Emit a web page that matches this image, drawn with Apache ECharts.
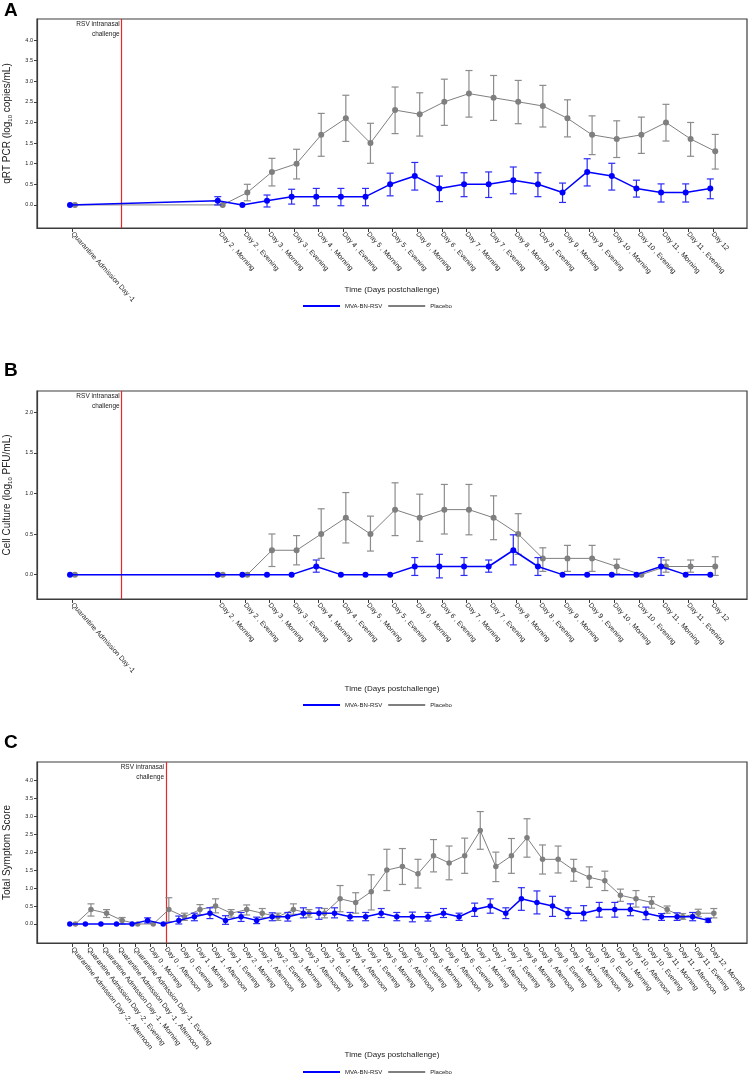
<!DOCTYPE html>
<html><head><meta charset="utf-8">
<script src="https://cdn.jsdelivr.net/npm/echarts@6/dist/echarts.min.js"></script>
<style>html,body{margin:0;padding:0;background:#fff}#c{width:750px;height:1081px}</style>
</head><body><div id="c"></div>
<script>
// ---------- DATA ----------
const catsAB = ['Quarantine Admission Day -1',
  'Day 2 , Morning','Day 2 , Evening','Day 3 , Morning','Day 3 , Evening','Day 4 , Morning','Day 4 , Evening',
  'Day 5 , Morning','Day 5 , Evening','Day 6 , Morning','Day 6 , Evening','Day 7 , Morning','Day 7 , Evening',
  'Day 8 , Morning','Day 8 , Evening','Day 9 , Morning','Day 9 , Evening','Day 10 , Morning','Day 10 , Evening',
  'Day 11 , Morning','Day 11 , Evening','Day 12'];
// half-day time slots (Quarantine Day -1 = 0, challenge Day 0 = 2)
const slotsAB = [0,6,7,8,9,10,11,12,13,14,15,16,17,18,19,20,21,22,23,24,25,26];
const challengeAB = 2;

const catsC = ['Quarantine Admission Day -2 , Afternoon','Quarantine Admission Day -2 , Evening',
  'Quarantine Admission Day -1 , Morning','Quarantine Admission Day -1 , Afternoon','Quarantine Admission Day -1 , Evening',
  'Day 0 , Morning','Day 0 , Afternoon','Day 0 , Evening','Day 1 , Morning','Day 1 , Afternoon','Day 1 , Evening',
  'Day 2 , Morning','Day 2 , Afternoon','Day 2 , Evening','Day 3 , Morning','Day 3 , Afternoon','Day 3 , Evening',
  'Day 4 , Morning','Day 4 , Afternoon','Day 4 , Evening','Day 5 , Morning','Day 5 , Afternoon','Day 5 , Evening',
  'Day 6 , Morning','Day 6 , Afternoon','Day 6 , Evening','Day 7 , Morning','Day 7 , Afternoon','Day 7 , Evening',
  'Day 8 , Morning','Day 8 , Afternoon','Day 8 , Evening','Day 9 , Morning','Day 9 , Afternoon','Day 9 , Evening',
  'Day 10 , Morning','Day 10 , Afternoon','Day 10 , Evening','Day 11 , Morning','Day 11 , Afternoon','Day 11 , Evening',
  'Day 12 , Morning'];
const slotsC = [0,1,2,3,4,5,6,7,8,9,10,11,12,13,14,15,16,17,18,19,20,21,22,23,24,25,26,27,28,29,30,31,32,33,34,35,36,37,38,39,40,41];
const challengeC = 6;

const yTicksA = [0,0.5,1,1.5,2,2.5,3,3.5,4];
const yTicksB = [0,0.5,1,1.5,2];
const yTicksC = [0,0.5,1,1.5,2,2.5,3,3.5,4];

// A: qRT PCR
const pcrVac     = [0,0.1,0,0.1,0.2,0.2,0.2,0.2,0.5,0.7,0.4,0.5,0.5,0.6,0.5,0.3,0.8,0.7,0.4,0.3,0.3,0.4];
const pcrVacLo   = [0,0,0,-0.05,0.02,-0.02,-0.02,-0.02,0.22,0.36,0.08,0.2,0.18,0.27,0.2,0.06,0.46,0.36,0.19,0.07,0.07,0.15];
const pcrVacHi   = [0,0.2,0,0.24,0.38,0.4,0.4,0.4,0.77,1.03,0.7,0.78,0.8,0.92,0.78,0.53,1.12,1.01,0.6,0.51,0.51,0.63];
const pcrPla     = [0,0,0.3,0.8,1.0,1.7,2.1,1.5,2.3,2.2,2.5,2.7,2.6,2.5,2.4,2.1,1.7,1.6,1.7,2.0,1.6,1.3];
const pcrPlaLo   = [0,0,0.1,0.46,0.63,1.18,1.54,1.01,1.73,1.67,1.93,2.13,2.05,1.97,1.89,1.65,1.22,1.15,1.25,1.55,1.18,0.87];
const pcrPlaHi   = [0,0,0.5,1.13,1.35,2.22,2.66,1.98,2.86,2.72,3.05,3.26,3.14,3.02,2.9,2.55,2.16,2.04,2.13,2.44,2.0,1.71];

// B: Cell culture
const cultVac    = [0,0,0,0,0,0.1,0,0,0,0.1,0.1,0.1,0.1,0.3,0.1,0,0,0,0,0.1,0,0];
const cultVacLo  = [0,0,0,0,0,0.03,0,0,0,-0.01,-0.04,-0.01,0.03,0.12,-0.01,0,0,0,0,-0.01,0,0];
const cultVacHi  = [0,0,0,0,0,0.18,0,0,0,0.21,0.25,0.21,0.18,0.49,0.21,0,0,0,0,0.21,0,0];
const cultPla    = [0,0,0,0.3,0.3,0.5,0.7,0.5,0.8,0.7,0.8,0.8,0.7,0.5,0.2,0.2,0.2,0.1,0,0.1,0.1,0.1];
const cultPlaLo  = [0,0,0,0.10,0.12,0.20,0.39,0.29,0.48,0.41,0.50,0.49,0.43,0.25,0.04,0.04,0.04,0.01,0,0.03,0.03,-0.01];
const cultPlaHi  = [0,0,0,0.50,0.48,0.81,1.01,0.72,1.13,0.99,1.11,1.11,0.97,0.75,0.33,0.36,0.36,0.19,0,0.18,0.18,0.22];

// C: Total symptom score
const symVac   = [0,0,0,0,0,0.1,0,0.1,0.2,0.3,0.1,0.2,0.1,0.2,0.2,0.3,0.3,0.3,0.2,0.2,0.3,0.2,0.2,0.2,0.3,0.2,0.4,0.5,0.3,0.7,0.6,0.5,0.3,0.3,0.4,0.4,0.4,0.3,0.2,0.2,0.2,0.1];
const symVacLo = [0,0,0,0,0,0.03,0,0,0.09,0.15,-0.01,0.07,0.01,0.09,0.08,0.17,0.13,0.17,0.09,0.09,0.18,0.09,0.06,0.08,0.18,0.10,0.21,0.30,0.15,0.38,0.28,0.21,0.15,0.09,0.19,0.19,0.23,0.12,0.10,0.10,0.09,0.05];
const symVacHi = [0,0,0,0,0,0.17,0,0.22,0.30,0.45,0.23,0.32,0.19,0.31,0.32,0.45,0.45,0.45,0.32,0.32,0.43,0.32,0.33,0.32,0.43,0.30,0.58,0.70,0.45,1.01,0.92,0.77,0.45,0.51,0.60,0.60,0.56,0.47,0.29,0.31,0.32,0.16];
const symPla   = [0,0.4,0.3,0.1,0,0,0.4,0.2,0.4,0.5,0.3,0.4,0.3,0.2,0.4,0.3,0.3,0.7,0.6,0.9,1.5,1.6,1.4,1.9,1.7,1.9,2.6,1.6,1.9,2.4,1.8,1.8,1.5,1.3,1.2,0.8,0.7,0.6,0.4,0.2,0.3,0.3];
const symPlaLo = [0,0.22,0.18,0,0,0,0.06,0.10,0.26,0.31,0.19,0.25,0.17,0.10,0.27,0.19,0.17,0.34,0.30,0.39,0.93,1.10,1.00,1.45,1.23,1.41,2.08,1.18,1.41,1.86,1.39,1.42,1.19,1.02,0.93,0.63,0.47,0.44,0.30,0.13,0.20,0.17];
const symPlaHi = [0,0.56,0.40,0.18,0,0,0.73,0.30,0.54,0.70,0.40,0.53,0.43,0.30,0.56,0.40,0.43,1.07,0.87,1.37,2.08,2.10,1.80,2.35,2.17,2.39,3.13,2.00,2.38,2.93,2.20,2.17,1.80,1.59,1.47,0.97,0.93,0.76,0.50,0.29,0.41,0.43];

// ---------- LAYOUT / STYLE ----------
const FONT = '"Liberation Sans", Arial, Helvetica, sans-serif';
const BLUE = '#0000ff', BLUE_ERR = '#2b2bf5', GRAY = '#7f7f7f', GRAY_ERR = '#8c8c8c', RED = '#e8262a';
const panels = [
  {letter:'A', grid:{left:37, width:710, top:19, height:209}, x:[-1.44,27.39], y:[-0.56,4.51], yTicks:yTicksA,
   cats:catsAB, slots:slotsAB, ch:challengeAB, rot:-48, dodge:0.1, xGap:58, sym:6,
   yName:'qRT PCR (log{sub|10} copies/mL)', vac:[pcrVac,pcrVacLo,pcrVacHi], pla:[pcrPla,pcrPlaLo,pcrPlaHi], legendTop:298, letterTop:1},
  {letter:'B', grid:{left:37, width:710, top:391, height:208}, x:[-1.44,27.39], y:[-0.3,2.26], yTicks:yTicksB,
   cats:catsAB, slots:slotsAB, ch:challengeAB, rot:-48, dodge:0.1, xGap:86, sym:6,
   yName:'Cell Culture (log{sub|10} PFU/mL)', vac:[cultVac,cultVacLo,cultVacHi], pla:[cultPla,cultPlaLo,cultPlaHi], legendTop:697, letterTop:361},
  {letter:'C', grid:{left:37, width:710, top:762, height:181}, x:[-2.286,43.31], y:[-0.53,4.51], yTicks:yTicksC,
   cats:catsC, slots:slotsC, ch:challengeC, rot:-52, dodge:0.18, xGap:108, sym:5.5,
   yName:'Total Symptom Score', vac:[symVac,symVacLo,symVacHi], pla:[symPla,symPlaLo,symPlaHi], legendTop:1064, letterTop:733}
];

function errSeries(k, p, arr, dodge, color, z) {
  return {
    type:'custom', name:'err'+k+color, xAxisIndex:k, yAxisIndex:k, silent:true, z:z, animation:false,
    encode:{x:0, y:[1,2]},
    data: p.slots.map((s,i)=>[s+dodge, arr[1][i], arr[2][i]]),
    renderItem:(params, api)=>{
      const x = api.value(0), lo = api.value(1), hi = api.value(2);
      if (Math.abs(hi-lo) < 1e-9) return null;
      const a = api.coord([x, lo]), b = api.coord([x, hi]);
      const w = 3.5, st = {stroke:color, lineWidth:1.2};
      return {type:'group', children:[
        {type:'line', shape:{x1:a[0], y1:a[1], x2:b[0], y2:b[1]}, style:st},
        {type:'line', shape:{x1:b[0]-w, y1:b[1], x2:b[0]+w, y2:b[1]}, style:st},
        {type:'line', shape:{x1:a[0]-w, y1:a[1], x2:a[0]+w, y2:a[1]}, style:st}
      ]};
    }
  };
}

const option = {animation:false, textStyle:{fontFamily:FONT}, grid:[], xAxis:[], yAxis:[], series:[], legend:[]};
panels.forEach((p,k)=>{
  option.grid.push(Object.assign({show:true, borderColor:'#3c3c3c', borderWidth:1.2, backgroundColor:'#fff',
    containLabel:false, outerBoundsMode:'none'}, p.grid));
  option.xAxis.push({
    type:'value', gridIndex:k, min:p.x[0], max:p.x[1],
    name:'Time (Days postchallenge)', nameLocation:'middle', nameGap:p.xGap, nameMoveOverlap:false,
    nameTextStyle:{fontSize:8, color:'#222', fontFamily:FONT},
    axisLine:{show:true, onZero:false, lineStyle:{color:'#3c3c3c', width:1.2}},
    axisTick:{show:true, customValues:p.slots, length:4, lineStyle:{color:'#3c3c3c'}},
    axisLabel:{show:true, customValues:p.slots, rotate:p.rot, fontSize:7, margin:5, color:'#222', fontFamily:FONT,
      formatter:(v)=>{const i=p.slots.indexOf(Math.round(v)); return i>=0 ? p.cats[i] : '';}},
    splitLine:{show:false}
  });
  option.yAxis.push({
    type:'value', gridIndex:k, min:p.y[0], max:p.y[1],
    name:p.yName, nameLocation:'middle', nameGap:24, nameMoveOverlap:false,
    nameTextStyle:{fontSize:10, color:'#222', fontFamily:FONT, lineHeight:12,
      rich:{sub:{fontSize:6, lineHeight:6, verticalAlign:'bottom', color:'#222', fontFamily:FONT}}},
    axisLine:{show:true, onZero:false, lineStyle:{color:'#3c3c3c', width:1.2}},
    axisTick:{show:true, customValues:p.yTicks, length:3, lineStyle:{color:'#3c3c3c'}},
    axisLabel:{show:true, customValues:p.yTicks, formatter:(v)=>v.toFixed(1), fontSize:5.5, margin:4, color:'#222', fontFamily:FONT},
    splitLine:{show:false}
  });
  // challenge marker line (RSV intranasal challenge time)
  option.series.push({
    type:'line', name:'challenge'+k, xAxisIndex:k, yAxisIndex:k, z:1, data:[], silent:true,
    markLine:{silent:true, symbol:['none','none'], label:{show:false}, animation:false, z:1,
      lineStyle:{color:RED, width:1.2, type:'solid', opacity:1}, emphasis:{disabled:true},
      data:[{xAxis:p.ch}]}
  });
  option.series.push(errSeries(k, p, p.pla, p.dodge, GRAY_ERR, 2));
  option.series.push({
    type:'line', name:'Placebo', xAxisIndex:k, yAxisIndex:k, z:3,
    data:p.slots.map((s,i)=>[s+p.dodge, p.pla[0][i]]),
    symbol:'circle', symbolSize:p.sym, lineStyle:{color:GRAY, width:1}, itemStyle:{color:GRAY},
    emphasis:{disabled:true}
  });
  option.series.push(errSeries(k, p, p.vac, -p.dodge, BLUE_ERR, 4));
  option.series.push({
    type:'line', name:'MVA-BN-RSV', xAxisIndex:k, yAxisIndex:k, z:5,
    data:p.slots.map((s,i)=>[s-p.dodge, p.vac[0][i]]),
    symbol:'circle', symbolSize:p.sym, lineStyle:{color:BLUE, width:1.5}, itemStyle:{color:BLUE},
    emphasis:{disabled:true}
  });
  option.legend.push({
    left:298, top:p.legendTop, itemWidth:37, itemHeight:2, itemGap:6,
    textStyle:{fontSize:6, color:'#222', fontFamily:FONT}, selectedMode:false,
    data:[{name:'MVA-BN-RSV', icon:'rect'},{name:'Placebo', icon:'rect'}]
  });
});

const chart = echarts.init(document.getElementById('c'), null, {renderer:'canvas', width:750, height:1081});
chart.setOption(option);

// titles and challenge annotation (placed relative to the challenge line)
const graphics = [];
panels.forEach((p,k)=>{
  graphics.push({type:'text', left:4, top:p.letterTop,
    style:{text:p.letter, fontSize:19, fontWeight:'bold', fill:'#000', fontFamily:FONT}});
  const px = chart.convertToPixel({xAxisIndex:k}, p.ch);
  graphics.push({type:'text', x:px-2, y:p.grid.top+0.5,
    style:{text:'RSV intranasal\nchallenge', align:'right', verticalAlign:'top', fontSize:6.5, lineHeight:9.5, fill:'#222', fontFamily:FONT}});
});
chart.setOption({graphic:graphics});
</script></body></html>
